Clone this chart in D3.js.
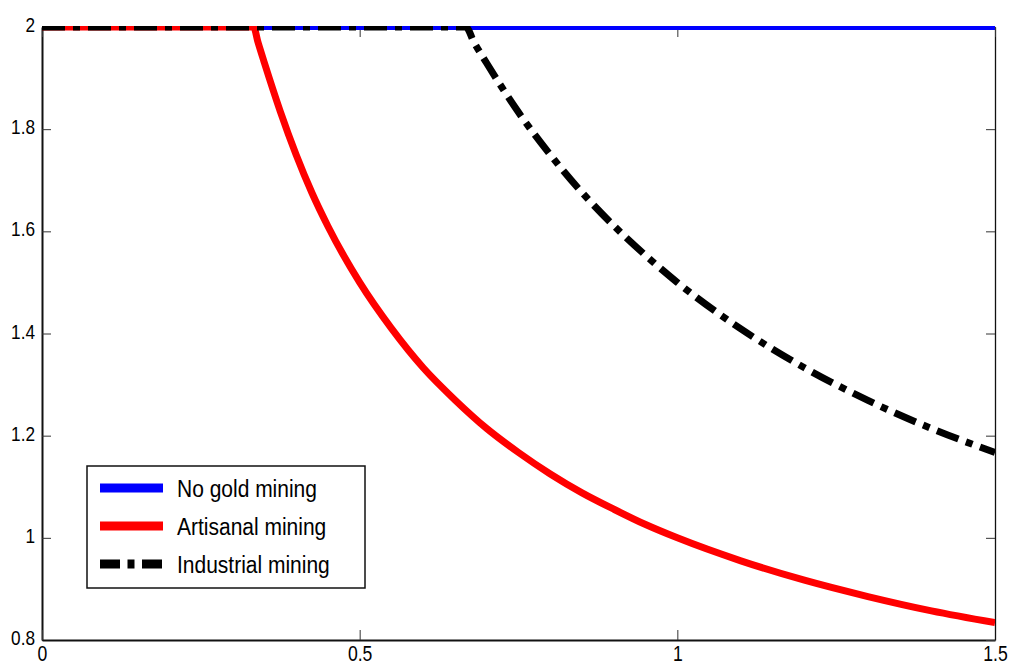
<!DOCTYPE html>
<html>
<head>
<meta charset="utf-8">
<script src="https://cdn.jsdelivr.net/npm/d3@7"></script>
<style>
  body { margin: 0; background: #fff; }
  svg { display: block; font-family: "Liberation Sans", Arial, sans-serif; }
  .tick line { stroke: #333; stroke-width: 1; }
</style>
</head>
<body>
<div id="chart"></div>
<script>
/* values */
var xTicks = [0, 0.5, 1, 1.5];
var xTickLabels = ['0', '0.5', '1', '1.5'];
var yTicks = [0.8, 1, 1.2, 1.4, 1.6, 1.8, 2];
var yTickLabels = ['0.8', '1', '1.2', '1.4', '1.6', '1.8', '2'];

var seriesNames = ['No gold mining', 'Artisanal mining', 'Industrial mining'];

var noGoldX = [0, 1.5];
var noGoldY = [2, 2];

var artisanalX = [0, 0.333, 0.34, 0.35, 0.375, 0.4, 0.425, 0.45, 0.5, 0.55, 0.6, 0.65, 0.7, 0.75, 0.8, 0.85, 0.9, 0.95, 1.0, 1.1, 1.2, 1.3, 1.4, 1.5];
var artisanalY = [2, 2, 1.97, 1.93, 1.835, 1.75, 1.675, 1.61, 1.5, 1.41, 1.333, 1.27, 1.214, 1.167, 1.125, 1.088, 1.056, 1.026, 1.0, 0.955, 0.917, 0.885, 0.857, 0.834];

var industrialX = [0, 0.667, 0.68, 0.7, 0.75, 0.8, 0.85, 0.9, 0.95, 1.0, 1.1, 1.2, 1.3, 1.4, 1.5];
var industrialY = [2, 2, 1.97, 1.929, 1.833, 1.75, 1.676, 1.611, 1.553, 1.5, 1.409, 1.333, 1.269, 1.214, 1.167];

var W = 1016, H = 668;
var plot = { left: 42, right: 995, top: 27, bottom: 640 };

var svg = d3.select('#chart').append('svg')
  .attr('width', W)
  .attr('height', H);

var x = d3.scaleLinear().domain([0, 1.5]).range([plot.left, plot.right]);
var y = d3.scaleLinear().domain([0.8, 2]).range([plot.bottom, plot.top]);

/* squeeze text horizontally, the original figure was stretched */
function squeeze(sel, sx) {
  sel.each(function () {
    var t = d3.select(this);
    var tx = +t.attr('x') || 0;
    var ty = +t.attr('y') || 0;
    t.attr('x', 0).attr('y', 0)
      .attr('transform', 'translate(' + tx + ',' + ty + ') scale(' + sx + ',1)');
  });
}

/* ── axes ── */
var gLeft = svg.append('g')
  .attr('transform', 'translate(' + plot.left + ',0)')
  .call(d3.axisLeft(y).tickValues(yTicks)
    .tickFormat(function (d, i) { return yTickLabels[i]; })
    .tickSize(-9).tickSizeOuter(0).tickPadding(7));
gLeft.selectAll('text').attr('font-size', '20.5px').attr('fill', '#000').attr('dy', '0.22em');
squeeze(gLeft.selectAll('text'), 0.84);

var gBottom = svg.append('g')
  .attr('transform', 'translate(0,' + plot.bottom + ')')
  .call(d3.axisBottom(x).tickValues(xTicks)
    .tickFormat(function (d, i) { return xTickLabels[i]; })
    .tickSize(-10).tickSizeOuter(0).tickPadding(5));
gBottom.selectAll('text').attr('font-size', '22px').attr('fill', '#000');
squeeze(gBottom.selectAll('text'), 0.8);

var gRight = svg.append('g')
  .attr('transform', 'translate(' + plot.right + ',0)')
  .call(d3.axisRight(y).tickValues(yTicks).tickFormat('')
    .tickSize(-9).tickSizeOuter(0));

var gTop = svg.append('g')
  .attr('transform', 'translate(0,' + plot.top + ')')
  .call(d3.axisTop(x).tickValues(xTicks).tickFormat('')
    .tickSize(-10).tickSizeOuter(0));

gLeft.select('.domain').attr('stroke', '#111').attr('stroke-width', 2);
gBottom.select('.domain').attr('stroke', '#111').attr('stroke-width', 2);
gRight.select('.domain').attr('stroke', '#111').attr('stroke-width', 1.3);
gTop.select('.domain').attr('stroke', '#777').attr('stroke-width', 1.3);

/* ── lines ── */
svg.append('clipPath').attr('id', 'plot-clip')
  .append('rect')
  .attr('x', plot.left).attr('y', plot.top - 1)
  .attr('width', plot.right - plot.left)
  .attr('height', plot.bottom - plot.top + 1);

var line = d3.line()
  .x(function (d) { return x(d[0]); })
  .y(function (d) { return y(d[1]); })
  .curve(d3.curveMonotoneX);

function pairs(xs, ys) {
  return xs.map(function (v, i) { return [v, ys[i]]; });
}

var series = [
  { name: seriesNames[0], pts: pairs(noGoldX, noGoldY), color: '#0000ff', width: 6, dash: null },
  { name: seriesNames[1], pts: pairs(artisanalX, artisanalY), color: '#ff0000', width: 7, dash: null },
  { name: seriesNames[2], pts: pairs(industrialX, industrialY), color: '#000000', width: 7, dash: '23,8,7,8' }
];

var gLines = svg.append('g').attr('clip-path', 'url(#plot-clip)');
gLines.selectAll('path')
  .data(series)
  .join('path')
  .attr('d', function (d) { return line(d.pts); })
  .attr('fill', 'none')
  .attr('stroke', function (d) { return d.color; })
  .attr('stroke-width', function (d) { return d.width; })
  .attr('stroke-dasharray', function (d) { return d.dash; });

/* ── legend ── */
var legend = svg.append('g');
legend.append('rect')
  .attr('x', 87).attr('y', 466)
  .attr('width', 278).attr('height', 122)
  .attr('fill', '#fff')
  .attr('stroke', '#111')
  .attr('stroke-width', 1.5);

var rows = legend.selectAll('g.row')
  .data(series)
  .join('g')
  .attr('class', 'row')
  .attr('transform', function (d, i) { return 'translate(0,' + (488 + i * 38) + ')'; });

rows.append('line')
  .attr('x1', 100).attr('x2', 163)
  .attr('y1', 0).attr('y2', 0)
  .attr('stroke', function (d) { return d.color; })
  .attr('stroke-width', 9)
  .attr('stroke-dasharray', function (d) { return d.dash ? '20,7.5,7,7.5' : null; });

rows.append('text')
  .attr('x', 177).attr('y', 8.5)
  .attr('font-size', '24.7px')
  .attr('fill', '#000')
  .text(function (d) { return d.name; });
squeeze(rows.selectAll('text'), 0.85);
</script>
</body>
</html>
